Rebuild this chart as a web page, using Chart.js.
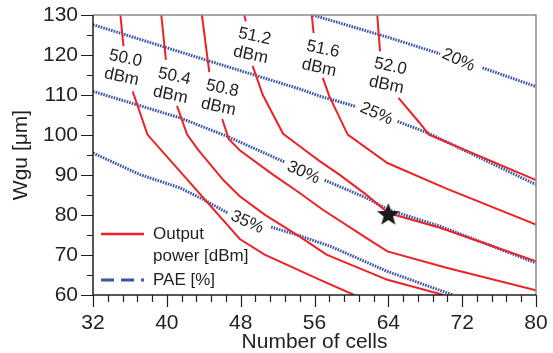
<!DOCTYPE html>
<html>
<head>
<meta charset="utf-8">
<script src="https://cdn.jsdelivr.net/npm/chart.js@4.4.1/dist/chart.umd.min.js"></script>
<style>
    html, body { margin: 0; padding: 0; background: #fff; }
    #contenedor { width: 553px; height: 353px; }
</style>
</head>
<body>
<div id="contenedor"><canvas id="grafica"></canvas></div>
<script>
// ticks de los ejes
const ticksX = [32, 40, 48, 56, 64, 72, 80];
const ticksY = [60, 70, 80, 90, 100, 110, 120, 130];

// contornos de potencia de salida [dBm] -> [celdas, Wgu], null = hueco de la etiqueta
const pot500 = [[34.97, 130], [35.3, 122.2], null, [36.3, 110.9], [37.9, 100.1], [47.9, 74.0], [50.6, 70.1], [56.6, 63.8], [60.3, 60]];
const pot504 = [[39.4, 130], [39.9, 118.8], null, [41.1, 107.3], [42.2, 100.1], [43.4, 96.3], [46.1, 88.8], [47.9, 84.7], [50.6, 80.1], [54.4, 74.6], [57.3, 70.1], [63.9, 63.8], [70.0, 60]];
const pot508 = [[43.8, 130], [44.6, 115.7], null, [46.0, 104.0], [46.7, 99.0], [47.9, 96.2], [51.5, 90.1], [54.4, 85.5], [56.9, 81.3], [61.6, 74.3], [63.9, 70.9], [70.3, 66.8], [80, 61.2]];
const pot512 = [[48.4, 130], [48.55, 128.4], null, [49.3, 117.3], [50.4, 110.0], [52.6, 100.3], [54.4, 97.2], [56.6, 93.4], [58.7, 90.1], [61.6, 85.1], [64.0, 80.5], [69.6, 76.8], [80, 68.4]];
const pot516 = [[55.7, 130], [55.9, 125.5], null, [56.9, 114.3], [57.6, 109.7], [59.6, 100.1], [63.9, 93.0], [70.3, 86.6], [80, 77.6]];
const pot520 = [[62.8, 130], [63.1, 120.9], null, [65.1, 109.3], [67.4, 103.0], [68.4, 100.1], [80, 88.7]];

// contornos de PAE [%]
const pae20 = [[55.8, 130], [64.0, 124.4], [69.6, 120.3], null, [74.2, 116.8], [80, 112.1]];
const pae25 = [[32, 127.6], [44.3, 118.7], [54.4, 111.5], [56.6, 109.7], [60.5, 107.1], null, [65.0, 103.4], [68.3, 100.5], [80, 87.6]];
const pae30 = [[32, 110.9], [41.4, 104.3], [46.5, 99.7], [52.8, 93.2], null, [57.1, 88.7], [61.6, 84.3], [64.0, 81.3], [69.6, 77.2], [80, 68.0]];
const pae35 = [[32, 95.5], [37.1, 90.1], [41.4, 86.8], [43.6, 84.3], [46.6, 80.5], null, [51.3, 77.0], [54.4, 74.8], [57.7, 72.2], [63.9, 65.9], [71.0, 60]];

// etiquetas de los contornos [texto, celdas, Wgu]
const etiquetasPot = [['50.0', 35.3, 116.8], ['50.4', 40.6, 112.3], ['50.8', 45.8, 109.3], ['51.2', 49.3, 122.3], ['51.6', 56.7, 119.1], ['52.0', 64.0, 114.8]];
const etiquetasPae = [['20%', 71.6, 118.7], ['25%', 62.7, 105.3], ['30%', 54.8, 90.6], ['35%', 48.7, 78.2]];

// punto de diseño
const estrella = [[64, 80]];

const ROJO = '#ec2227';
const AZUL = '#3b56a8';
const NEGRO = '#231f20';
const FUENTE = "'Liberation Sans', Arial, sans-serif";

function segmentos(puntos) {
    const lista = [[]];
    puntos.forEach(p => {
        if (p === null) {
            lista.push([]);
        } else {
            lista[lista.length - 1].push({ x: p[0], y: p[1] });
        }
    });
    return lista;
}

function crearEstrella(r) {
    const c = document.createElement('canvas');
    c.width = c.height = 2 * r + 2;
    const g = c.getContext('2d');
    g.translate(r + 1, r + 1);
    g.beginPath();
    for (let i = 0; i < 10; i++) {
        const rad = i % 2 ? r * 0.42 : r;
        const ang = -Math.PI / 2 + i * Math.PI / 5;
        g.lineTo(rad * Math.cos(ang), rad * Math.sin(ang));
    }
    g.closePath();
    g.fillStyle = '#1a1a1a';
    g.fill();
    return c;
}

const datasets = [];
datasets.push({
    label: 'Design point',
    data: estrella.map(p => ({ x: p[0], y: p[1] })),
    pointStyle: crearEstrella(12),
    pointRadius: 12,
    showLine: false,
    order: 0
});
[pae20, pae25, pae30, pae35].forEach(c => {
    segmentos(c).forEach(s => datasets.push({
        label: 'PAE [%]',
        data: s,
        showLine: true,
        borderColor: AZUL,
        borderWidth: 3,
        borderDash: [1.6, 1.1],
        pointRadius: 0,
        order: 2
    }));
});
[pot500, pot504, pot508, pot512, pot516, pot520].forEach(c => {
    segmentos(c).forEach(s => datasets.push({
        label: 'Output power [dBm]',
        data: s,
        showLine: true,
        borderColor: ROJO,
        borderWidth: 2,
        pointRadius: 0,
        order: 1
    }));
});

// marco, ticks menores, etiquetas de contornos y leyenda
const marcoPlugin = {
    id: 'marco',
    afterDraw(chart) {
        const { ctx, chartArea: a, scales: { x, y } } = chart;
        ctx.save();

        // etiquetas de los contornos
        ctx.fillStyle = NEGRO;
        ctx.font = '17px ' + FUENTE;
        ctx.textAlign = 'center';
        ctx.textBaseline = 'middle';
        etiquetasPot.forEach(e => {
            ctx.save();
            ctx.translate(x.getPixelForValue(e[1]), y.getPixelForValue(e[2]));
            ctx.rotate(12 * Math.PI / 180);
            ctx.fillText(e[0], 0, -9.5);
            ctx.fillText('dBm', 0, 9.5);
            ctx.restore();
        });
        etiquetasPae.forEach(e => {
            ctx.save();
            ctx.translate(x.getPixelForValue(e[1]), y.getPixelForValue(e[2]));
            ctx.rotate(24 * Math.PI / 180);
            ctx.fillText(e[0], 0, 0);
            ctx.restore();
        });

        // marco gris arriba y derecha
        ctx.strokeStyle = '#8a8a8a';
        ctx.lineWidth = 1.5;
        ctx.beginPath();
        ctx.moveTo(a.left, a.top);
        ctx.lineTo(a.right, a.top);
        ctx.lineTo(a.right, a.bottom);
        ctx.stroke();

        // ejes
        ctx.strokeStyle = NEGRO;
        ctx.lineWidth = 1.5;
        ctx.beginPath();
        ctx.moveTo(a.left, a.top);
        ctx.lineTo(a.left, a.bottom);
        ctx.lineTo(a.right, a.bottom);
        ctx.stroke();

        ctx.lineWidth = 1.2;
        ctx.beginPath();
        for (let v = 32; v <= 80.001; v += 1.6) {
            const px = Math.round(x.getPixelForValue(v)) + 0.5;
            const mayor = Math.abs((v - 32) / 8 - Math.round((v - 32) / 8)) < 0.01;
            ctx.moveTo(px, a.bottom);
            ctx.lineTo(px, a.bottom + (mayor ? 12 : 7));
        }
        for (let v = 60; v <= 130; v += 5) {
            const py = Math.round(y.getPixelForValue(v)) + 0.5;
            ctx.moveTo(a.left, py);
            ctx.lineTo(a.left - (v % 10 === 0 ? 12 : 6), py);
        }
        ctx.stroke();

        // leyenda
        const lx = a.left + 8;
        const ly = a.bottom - 61;
        ctx.lineWidth = 2.5;
        ctx.strokeStyle = ROJO;
        ctx.beginPath();
        ctx.moveTo(lx, ly);
        ctx.lineTo(lx + 43, ly);
        ctx.stroke();
        ctx.strokeStyle = AZUL;
        ctx.lineWidth = 3;
        ctx.setLineDash([13, 7]);
        ctx.beginPath();
        ctx.moveTo(lx, ly + 46);
        ctx.lineTo(lx + 43, ly + 46);
        ctx.stroke();
        ctx.setLineDash([]);
        ctx.fillStyle = NEGRO;
        ctx.textAlign = 'left';
        ctx.textBaseline = 'middle';
        ctx.font = '17px ' + FUENTE;
        ctx.fillText('Output', lx + 52, ly);
        ctx.fillText('power [dBm]', lx + 52, ly + 22);
        ctx.fillText('PAE [%]', lx + 52, ly + 46);

        ctx.restore();
    }
};

const ctx = document.getElementById('grafica');

grafica = new Chart(ctx, {
    type: 'scatter',
    data: { datasets },
    options: {
        responsive: true,
        maintainAspectRatio: false,
        animation: false,
        layout: { padding: { top: 15, right: 17 } },
        plugins: {
            legend: { display: false },
            tooltip: { enabled: false }
        },
        scales: {
            x: {
                type: 'linear',
                min: 32,
                max: 80,
                afterBuildTicks: s => { s.ticks = ticksX.map(v => ({ value: v })); },
                afterFit: s => { s.height = 58; s.paddingLeft = 0; s.paddingRight = 0; },
                grid: { display: false, drawTicks: false },
                border: { display: false },
                ticks: { padding: 16, maxRotation: 0, color: NEGRO, font: { family: FUENTE, size: 21 } },
                title: { display: true, text: 'Number of cells', color: NEGRO, padding: 0, font: { family: FUENTE, size: 21, lineHeight: 1 } }
            },
            y: {
                type: 'linear',
                min: 60,
                max: 130,
                afterBuildTicks: s => { s.ticks = ticksY.map(v => ({ value: v })); },
                afterFit: s => { s.width = 93; s.paddingTop = 0; s.paddingBottom = 0; },
                grid: { display: false, drawTicks: false },
                border: { display: false },
                ticks: { padding: 15, color: NEGRO, font: { family: FUENTE, size: 21 } },
                title: { display: true, text: 'Wgu [μm]', color: NEGRO, padding: { top: 11, bottom: 0 }, font: { family: FUENTE, size: 21, lineHeight: 1 } }
            }
        }
    },
    plugins: [marcoPlugin]
});
</script>
</body>
</html>
